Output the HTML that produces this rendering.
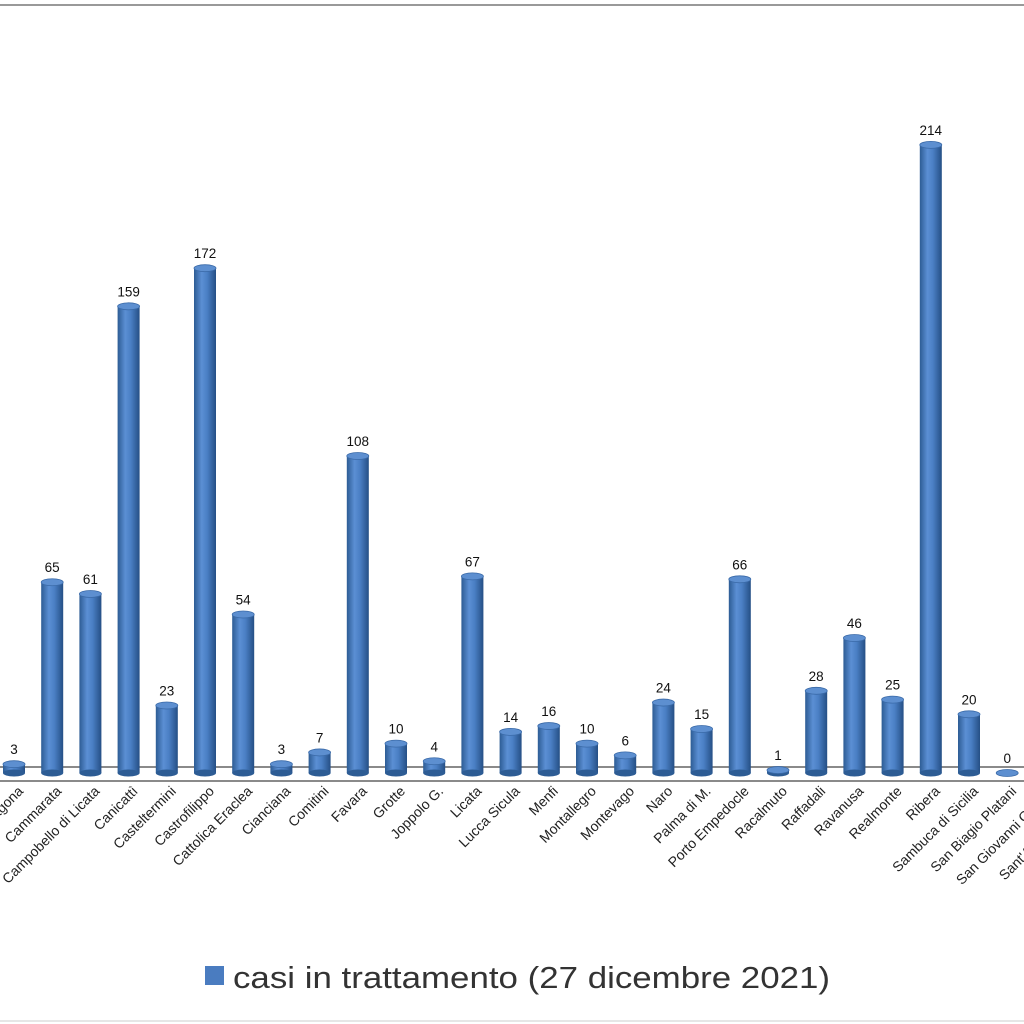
<!DOCTYPE html>
<html><head><meta charset="utf-8"><style>
html,body{margin:0;padding:0;background:#fff;width:1024px;height:1024px;overflow:hidden}
svg text{font-family:"Liberation Sans",sans-serif}
</style></head><body>
<svg id="s" width="1024" height="1024" xmlns="http://www.w3.org/2000/svg">
<defs>
<linearGradient id="g" x1="0" x2="1" y1="0" y2="0">
<stop offset="0" stop-color="#2d5c94"/><stop offset="0.35" stop-color="#5b8fd4"/><stop offset="0.6" stop-color="#4a7fc4"/><stop offset="1" stop-color="#254f85"/>
</linearGradient>
</defs>
<line x1="0" y1="5" x2="1024" y2="5" stroke="#999" stroke-width="2"/>
<line x1="0" y1="1021" x2="1024" y2="1021" stroke="#ccc" stroke-width="1"/>
<line x1="0" y1="767" x2="1024" y2="767" stroke="#8a8a8a" stroke-width="2"/>
<line x1="0" y1="781" x2="1024" y2="781" stroke="#8a8a8a" stroke-width="2"/>
<g id="bars"></g>
<rect x="205" y="966" width="19" height="19" fill="#4a7cc0"/>
<text x="233" y="988" font-size="31" fill="#333" textLength="597" lengthAdjust="spacingAndGlyphs">casi in trattamento (27 dicembre 2021)</text>
</svg>
<script>
var names=["Aragona","Cammarata","Campobello di Licata","Canicattì","Casteltermini","Castrofilippo","Cattolica Eraclea","Cianciana","Comitini","Favara","Grotte","Joppolo G.","Licata","Lucca Sicula","Menfi","Montallegro","Montevago","Naro","Palma di M.","Porto Empedocle","Racalmuto","Raffadali","Ravanusa","Realmonte","Ribera","Sambuca di Sicilia","San Biagio Platani","San Giovanni Gemini","Sant'Angelo Muxaro"];
var vals=[3,65,61,159,23,172,54,3,7,108,10,4,67,14,16,10,6,24,15,66,1,28,46,25,214,20,0];
var gg=document.getElementById("bars"),h="";
for(var i=0;i<names.length;i++){
 var c=14+i*38.2;
 if(i<vals.length){
  var v=vals[i],ty=773-v*2.935,x=c-11;
  if(v>0){
   h+='<rect x="'+x+'" y="'+ty+'" width="22" height="'+(773-ty)+'" fill="url(#g)"/>';
   h+='<ellipse cx="'+c+'" cy="773" rx="11" ry="3.5" fill="#2d5c94"/>';
  }
  h+='<ellipse cx="'+c+'" cy="'+ty+'" rx="11" ry="3.5" fill="#5d8fd0" stroke="#3a6aa8" stroke-width="0.8"/>';
  h+='<text x="'+c+'" y="'+(ty-10)+'" font-size="13.5" text-anchor="middle" fill="#111">'+v+'</text>';
 }
 var lx=c+10,ly=792;
 h+='<text x="'+lx+'" y="'+ly+'" font-size="14" text-anchor="end" fill="#222" transform="rotate(-45 '+lx+' '+ly+')">'+names[i]+'</text>';
}
gg.innerHTML=h;
</script>
</body></html>
